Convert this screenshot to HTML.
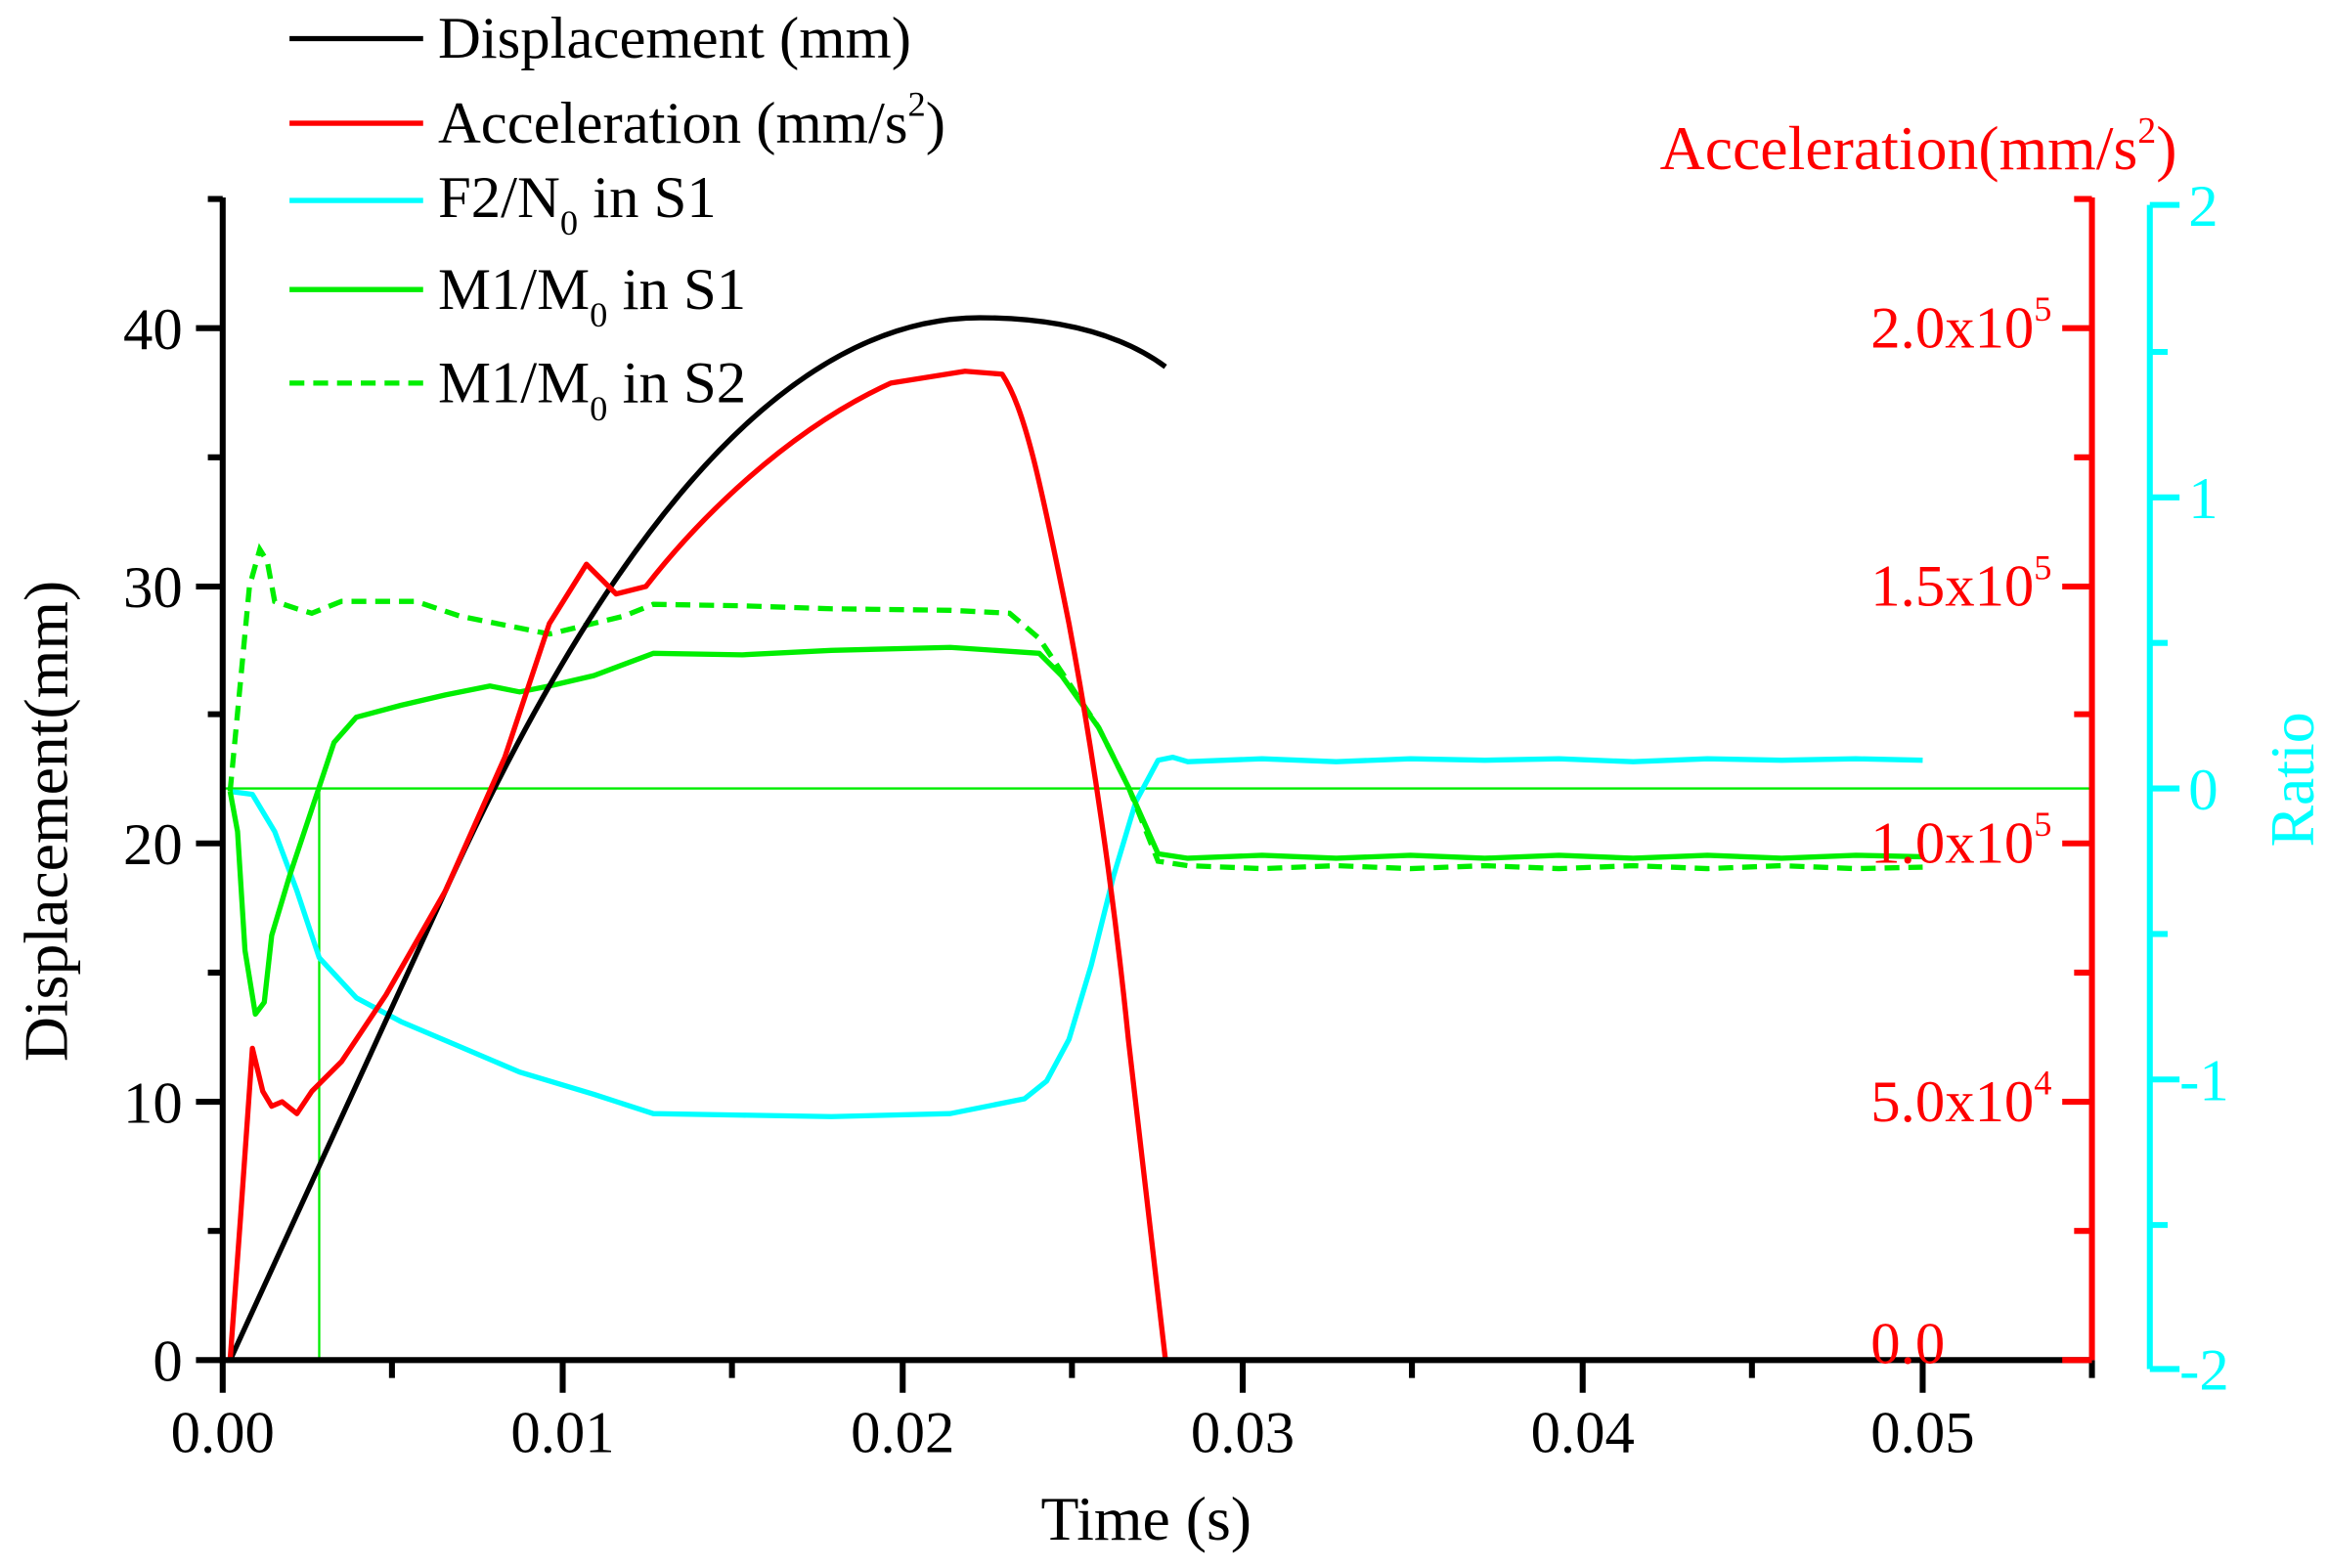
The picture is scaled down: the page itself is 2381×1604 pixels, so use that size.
<!DOCTYPE html>
<html><head><meta charset="utf-8"><style>html,body{margin:0;padding:0;background:#fff}svg{display:block}</style></head><body>
<svg width="2381" height="1604" viewBox="0 0 1568 1056" preserveAspectRatio="none" xmlns="http://www.w3.org/2000/svg" font-family="Liberation Serif, serif">
<rect width="1568" height="1056" fill="#fff"/>
<line x1="150" y1="531" x2="1409" y2="531" stroke="#00ee00" stroke-width="1.5"/>
<line x1="215" y1="916" x2="215" y2="531" stroke="#00ee00" stroke-width="1.5"/>
<polyline fill="none" stroke="#00ffff" stroke-width="3.5" stroke-linejoin="round" points="155,533 170,535 185,560 200,600 215,645 240,672 270,688 310,705 350,722 400,737 440,750 500,751 560,752 640,750 690,740 705,728 720,700 735,650 750,590 765,540 780,512 790,510 800,513 850,511 900,513 950,511 1000,512 1050,511 1100,513 1150,511 1200,512 1250,511 1295,512"/>
<polyline fill="none" stroke="#00ee00" stroke-width="3.5" stroke-linejoin="round" points="155,533 160,560 165,640 172,683 178,675 183,630 195,590 210,545 225,500 240,483 270,475 300,468 330,462 350,466 370,462 400,455 440,440 500,441 560,438 640,436 700,440 715,455 740,490 760,530 780,575 800,578 850,576 900,578 950,576 1000,578 1050,576 1100,578 1150,576 1200,578 1250,576 1295,577"/>
<polyline fill="none" stroke="#00ee00" stroke-width="3.5" stroke-dasharray="10,6" points="155,533 160,480 168,395 175,370 180,378 185,405 200,410 210,413 230,405 280,405 310,415 370,427 420,415 440,407 500,408 560,410 640,411 680,413 700,430 720,460 740,490 760,530 780,580 800,583 850,585 900,583 950,585 1000,583 1050,585 1100,583 1150,585 1200,583 1250,585 1295,584"/>
<path fill="none" stroke="#000" stroke-width="3.5" d="M155,916 L300,600 C400,380 520,214 660,214 Q740,214 785,247"/>
<path fill="none" stroke="#ff0000" stroke-width="3.5" stroke-linejoin="round" d="M155,916 L162,820 L170,706 L177,735 L183,745 L190,742 L200,750 L210,735 L230,715 L260,670 L300,600 L340,510 L370,420 L395,380 L405,390 L415,400 L435,395 C470,350 530,290 600,258 L650,250 L675,252 C690,275 700,320 720,420 C735,500 750,600 760,700 L785,916"/>
<g stroke="#000" stroke-width="4" fill="none">
<line x1="150" y1="133" x2="150" y2="918"/>
<line x1="148" y1="916" x2="1409" y2="916"/>
<path d="M150,916h-18M150,742h-18M150,568h-18M150,395h-18M150,221h-18M150,829h-10M150,655h-10M150,481h-10M150,308h-10M150,134h-10"/>
<path d="M150,916v22M379,916v22M608,916v22M837,916v22M1066,916v22M1295,916v22M264,916v12M493,916v12M722,916v12M951,916v12M1180,916v12M1409,916v12"/>
</g>
<g stroke="#ff0000" stroke-width="4" fill="none">
<line x1="1409" y1="133" x2="1409" y2="916"/>
<path d="M1409,916h-20M1409,742h-20M1409,568h-20M1409,395h-20M1409,221h-20M1409,829h-12M1409,655h-12M1409,481h-12M1409,308h-12M1409,134h-12"/>
</g>
<g stroke="#00ffff" stroke-width="4" fill="none">
<line x1="1448" y1="138" x2="1448" y2="922"/>
<path d="M1448,138h20M1448,335h20M1448,531h20M1448,727h20M1448,922h20M1448,237h12M1448,433h12M1448,629h12M1448,825h12"/>
</g>
<g font-size="40" fill="#000" text-anchor="end">
<text x="123" y="930">0</text><text x="123" y="756">10</text><text x="123" y="582">20</text><text x="123" y="409">30</text><text x="123" y="235">40</text>
</g>
<g font-size="40" fill="#000" text-anchor="middle">
<text x="150" y="978">0.00</text><text x="379" y="978">0.01</text><text x="608" y="978">0.02</text><text x="837" y="978">0.03</text><text x="1066" y="978">0.04</text><text x="1295" y="978">0.05</text>
<text x="772" y="1037" font-size="42">Time (s)</text>
<text transform="translate(45,553) rotate(-90)" font-size="42">Displacement(mm)</text>
</g>
<g font-size="40" fill="#ff0000">
<text x="1260" y="234">2.0x10<tspan font-size="24" dy="-18">5</tspan></text>
<text x="1260" y="408">1.5x10<tspan font-size="24" dy="-18">5</tspan></text>
<text x="1260" y="581">1.0x10<tspan font-size="24" dy="-18">5</tspan></text>
<text x="1260" y="755">5.0x10<tspan font-size="24" dy="-18">4</tspan></text>
<text x="1260" y="918">0.0</text>
<text x="1118" y="114" font-size="42">Acceleration(mm/s<tspan font-size="25" dy="-18">2</tspan><tspan dy="18">)</tspan></text>
</g>
<g font-size="40" fill="#00ffff">
<text x="1474" y="152">2</text><text x="1474" y="349">1</text><text x="1474" y="545">0</text><text x="1468" y="741">-1</text><text x="1468" y="936">-2</text>
<text transform="translate(1558,525) rotate(-90)" text-anchor="middle" font-size="42">Ratio</text>
</g>
<g stroke-width="3.5">
<line x1="195" y1="26" x2="285" y2="26" stroke="#000"/>
<line x1="195" y1="83" x2="285" y2="83" stroke="#ff0000"/>
<line x1="195" y1="135" x2="285" y2="135" stroke="#00ffff"/>
<line x1="195" y1="195" x2="285" y2="195" stroke="#00ee00"/>
<line x1="195" y1="258" x2="285" y2="258" stroke="#00ee00" stroke-dasharray="10,6"/>
</g>
<g font-size="40" fill="#000">
<text x="295" y="39">Displacement (mm)</text>
<text x="295" y="96">Acceleration (mm/s<tspan font-size="24" dy="-18">2</tspan><tspan dy="18">)</tspan></text>
<text x="295" y="146">F2/N<tspan font-size="24" dy="12">0</tspan><tspan dy="-12"> in S1</tspan></text>
<text x="295" y="208">M1/M<tspan font-size="24" dy="12">0</tspan><tspan dy="-12"> in S1</tspan></text>
<text x="295" y="271">M1/M<tspan font-size="24" dy="12">0</tspan><tspan dy="-12"> in S2</tspan></text>
</g>
</svg>
</body></html>
